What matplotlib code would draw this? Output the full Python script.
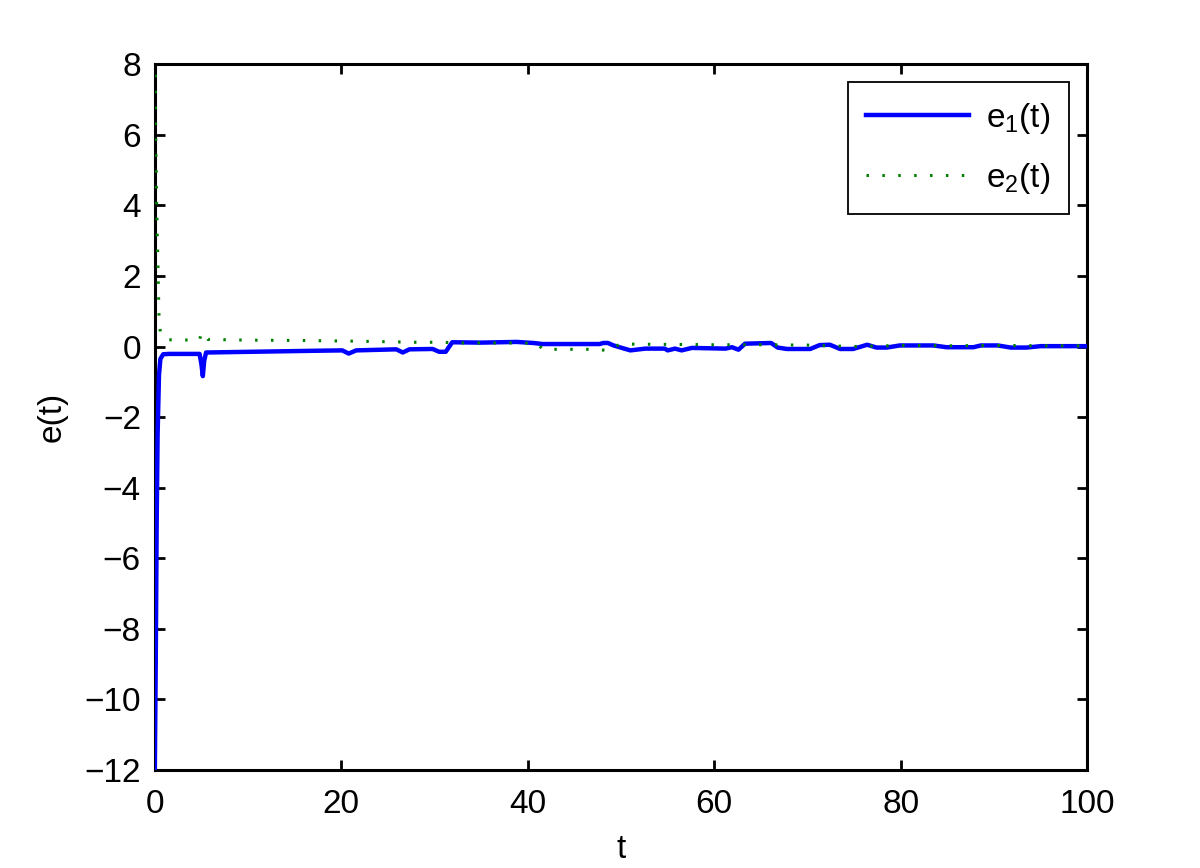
import matplotlib
matplotlib.use("Agg")
import matplotlib.pyplot as plt
import numpy as np

# ---- data ----
t1 = [0, 0.1, 0.2, 0.3, 0.45, 0.6, 0.9, 1.5, 4.8, 5.0, 5.15, 5.3, 5.5, 10.2, 17.4, 20.1, 20.8, 21.6,
      25.9, 26.6, 27.3, 29.8, 30.5, 31.2, 31.9, 35, 38.8, 40.6, 41.6, 47.7, 48.1, 48.6, 49.2, 51.0,
      52.6, 54.7, 55.0, 55.8, 56.5, 57.6, 61.2, 61.9, 62.6, 63.3, 66.1, 66.8, 67.8, 70.3, 71.3, 72.4,
      73.5, 74.9, 76.4, 77.4, 78.5, 79.9, 83.5, 84.9, 87.8, 88.6, 90.4, 91.8, 93.5, 95.0, 100]
e1 = [-12, -9, -5, -2.5, -0.8, -0.35, -0.22, -0.21, -0.21, -0.5, -0.84, -0.4, -0.17, -0.15, -0.12, -0.11, -0.2, -0.11,
      -0.08, -0.17, -0.08, -0.07, -0.15, -0.15, 0.12, 0.11, 0.13, 0.1, 0.07, 0.07, 0.1, 0.1, 0.03, -0.11,
      -0.06, -0.06, -0.11, -0.06, -0.11, -0.04, -0.06, -0.02, -0.09, 0.08, 0.1, -0.03, -0.07, -0.07, 0.04, 0.05,
      -0.07, -0.07, 0.05, -0.03, -0.03, 0.03, 0.03, -0.02, -0.02, 0.03, 0.03, -0.03, -0.03, 0.01, 0.01]

t2 = [0, 0.1, 0.2, 0.36, 0.46, 0.6, 0.9, 1.5, 4.8, 5.0, 5.3, 5.7, 10, 16, 22, 28, 31, 32, 38, 41.0, 41.6,
      47.5, 48.6, 49.9, 55, 60, 65, 70, 72, 75, 80, 85, 90, 95, 100]
e2 = [9.5, 6, 4, 2, 0.75, 0.4, 0.25, 0.19, 0.18, 0.4, 0.36, 0.2, 0.18, 0.17, 0.15, 0.12, 0.12, 0.1, 0.1, 0.09, -0.08,
      -0.08, -0.12, 0.07, 0.06, 0.05, 0.05, 0.04, 0.02, 0.0, 0.03, 0.02, 0.03, 0.02, 0.02]

xticks = [0, 20, 40, 60, 80, 100]
yticks = [-12, -10, -8, -6, -4, -2, 0, 2, 4, 6, 8]

# ---- style ----
plt.rcParams['font.family'] = ['Liberation Sans', 'DejaVu Sans']
plt.rcParams['mathtext.fontset'] = 'custom'
plt.rcParams['mathtext.rm'] = 'Liberation Sans'
plt.rcParams['mathtext.it'] = 'Liberation Sans'
plt.rcParams['mathtext.default'] = 'regular'

FS = 24

fig = plt.figure(figsize=(12, 8.68), dpi=100)
ax = fig.add_axes([0.129, 0.113, 0.777, 0.813])

ax.plot(t1, e1, color='#0000ff', lw=3.2, label='e$_1$(t)', zorder=6)
ax.plot(t2, e2, color='#008000', lw=2.2, dashes=(0.8, 4.4), label='e$_2$(t)', zorder=7)

ax.set_xlim(0, 100)
ax.set_ylim(-12, 8)
ax.set_xticks(xticks)
ax.set_yticks(yticks)
ax.tick_params(direction='in', length=7.5, width=2, labelsize=FS, top=True, right=True, pad=10)
ax.tick_params(axis='x', pad=14)
for s in ax.spines.values():
    s.set_linewidth(2.2)
    s.set_zorder(5)

ax.set_xlabel('t', fontsize=FS, labelpad=10)
ax.set_ylabel('e(t)', fontsize=FS, labelpad=12)

leg = ax.legend(loc='upper right', fontsize=FS, handlelength=3.1, fancybox=False,
                edgecolor='black', framealpha=1, borderpad=0.55, labelspacing=0.75,
                bbox_to_anchor=(0.998, 0.998), handletextpad=0.5)
leg.get_frame().set_linewidth(1.3)
leg.set_zorder(10)

fig.savefig('out.png', dpi=100)
